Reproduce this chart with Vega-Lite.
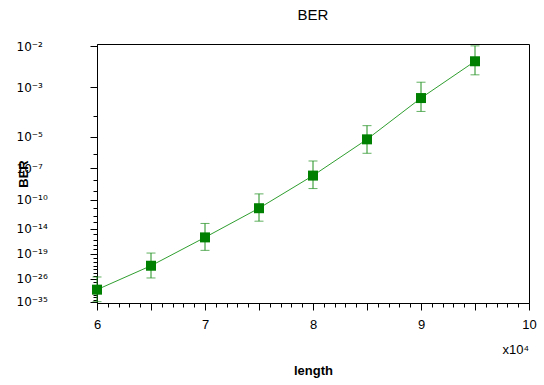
{
  "$schema": "https://vega.github.io/schema/vega-lite/v6.json",
  "width": 432,
  "height": 259,
  "autosize": {"type": "none"},
  "padding": {"left": 97, "top": 44, "right": 15, "bottom": 82},
  "config": {
    "font": "Liberation Sans",
    "view": {"stroke": "black", "strokeWidth": 1},
    "axis": {"grid": false, "domainColor": "black", "tickColor": "black", "labelColor": "black", "titleColor": "black"}
  },
  "title": {"text": "BER", "fontSize": 15, "fontWeight": "normal", "anchor": "middle", "offset": 17, "color": "black"},
  "data": {
    "values": [
      {"length": 60000, "ber": 1.48e-30, "ber_high": 4.37e-26, "ber_low": 1.32e-35},
      {"length": 65000, "ber": 9.77e-23, "ber_high": 1.55e-19, "ber_low": 2.09e-26},
      {"length": 70000, "ber": 2.82e-16, "ber_high": 6.76e-14, "ber_low": 6.31e-19},
      {"length": 75000, "ber": 9.55e-12, "ber_high": 4.47e-10, "ber_low": 1.51e-13},
      {"length": 80000, "ber": 2.45e-8, "ber_high": 3.31e-7, "ber_low": 1.58e-9},
      {"length": 85000, "ber": 7.41e-6, "ber_high": 3.63e-5, "ber_low": 1.10e-6},
      {"length": 90000, "ber": 4.57e-4, "ber_high": 1.42e-3, "ber_low": 1.48e-4},
      {"length": 95000, "ber": 4.83e-3, "ber_high": 1.01e-2, "ber_low": 2.26e-3}
    ]
  },
  "transform": [
    {"calculate": "-log(datum.ber)/LN10", "as": "e"},
    {"calculate": "-log(datum.ber_high)/LN10", "as": "e_high"},
    {"calculate": "-log(datum.ber_low)/LN10", "as": "e_low"}
  ],
  "layer": [
    {
      "mark": {"type": "line", "color": "#2f9e2f", "strokeWidth": 1},
      "encoding": {
        "x": {
          "field": "length", "type": "quantitative",
          "scale": {"domain": [60000, 100000], "nice": false, "zero": false},
          "axis": {
            "title": "length",
            "values": [60000,61000,62000,63000,64000,65000,66000,67000,68000,69000,70000,71000,72000,73000,74000,75000,76000,77000,78000,79000,80000,81000,82000,83000,84000,85000,86000,87000,88000,89000,90000,91000,92000,93000,94000,95000,96000,97000,98000,99000,100000],
            "tickCount": 1000,
            "labelExpr": "datum.value % 10000 == 0 ? format(datum.value/10000, 'd') : ''",
            "tickSize": {"condition": {"test": "datum.value % 5000 == 0", "value": 7}, "value": 4},
            "labelFlush": false,
            "labelOverlap": false,
            "labelPadding": 8,
            "labelFontSize": 13,
            "titleFontSize": 13,
            "titleFontWeight": "bold",
            "titlePadding": 33
          }
        },
        "y": {
          "field": "e", "type": "quantitative", "title": "BER",
          "scale": {"type": "pow", "exponent": -0.11, "domain": [1.96, 35.5], "nice": false, "zero": false, "reverse": true},
          "axis": {
            "values": [2,3,4,5,6,7,8,9,10,11,12,13,14,15,16,17,18,19,20,21,22,23,24,25,26,27,28,29,30,31,32,33,34,35],
            "tickCount": 1000,
            "labelExpr": "datum.value==2?'10⁻²':datum.value==3?'10⁻³':datum.value==5?'10⁻⁵':datum.value==7?'10⁻⁷':datum.value==10?'10⁻¹⁰':datum.value==14?'10⁻¹⁴':datum.value==19?'10⁻¹⁹':datum.value==26?'10⁻²⁶':datum.value==35?'10⁻³⁵':''",
            "tickSize": {"condition": {"test": "indexof([2,3,5,7,10,14,19,26,35], datum.value) >= 0", "value": 7}, "value": 4},
            "labelAlign": "left",
            "labelBaseline": "middle",
            "labelPadding": 74,
            "labelOverlap": false,
            "labelFlush": false,
            "labelBound": false,
            "labelFont": "DejaVu Sans",
            "labelFontSize": 12,
            "titleFontSize": 13,
            "titleFontWeight": "bold",
            "titlePadding": -14
          }
        }
      }
    },
    {
      "mark": {"type": "rule", "color": "#1e8f1e", "strokeWidth": 1},
      "encoding": {
        "x": {"field": "length", "type": "quantitative"},
        "y": {"field": "e_high", "type": "quantitative", "title": "BER"},
        "y2": {"field": "e_low"}
      }
    },
    {
      "mark": {"type": "tick", "orient": "horizontal", "color": "#1e8f1e", "size": 9, "thickness": 1},
      "encoding": {
        "x": {"field": "length", "type": "quantitative"},
        "y": {"field": "e_high", "type": "quantitative", "title": "BER"}
      }
    },
    {
      "mark": {"type": "tick", "orient": "horizontal", "color": "#1e8f1e", "size": 9, "thickness": 1},
      "encoding": {
        "x": {"field": "length", "type": "quantitative"},
        "y": {"field": "e_low", "type": "quantitative", "title": "BER"}
      }
    },
    {
      "mark": {"type": "point", "shape": "square", "filled": true, "color": "#008000", "size": 100, "opacity": 1},
      "encoding": {
        "x": {"field": "length", "type": "quantitative"},
        "y": {"field": "e", "type": "quantitative", "title": "BER"}
      }
    },
    {
      "data": {"values": [{"label": "x10⁴"}]},
      "mark": {"type": "text", "align": "right", "baseline": "alphabetic", "dy": 51, "fontSize": 13, "color": "black"},
      "encoding": {
        "x": {"datum": 100000},
        "y": {"datum": 35.5},
        "text": {"field": "label"}
      }
    }
  ]
}
